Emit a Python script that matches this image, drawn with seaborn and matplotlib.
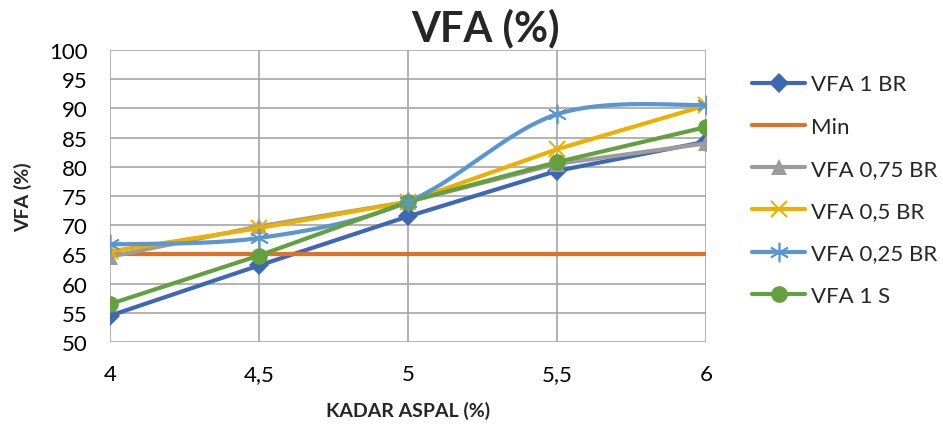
import numpy as np
import pandas as pd
import matplotlib
matplotlib.use("Agg")
import matplotlib.pyplot as plt
import seaborn as sns

# Asphalt content (%) on the x axis
kadar_aspal = [4.0, 4.5, 5.0, 5.5, 6.0]
x_ticks = ["4", "4,5", "5", "5,5", "6"]

vfa_1_br = [54.5, 63.1, 71.5, 79.3, 84.3]
vfa_min = [65.0, 65.0, 65.0, 65.0, 65.0]
vfa_075_br = [64.6, 69.8, 74.0, 80.5, 84.0]
vfa_05_br = [65.5, 69.5, 74.0, 83.0, 90.5]
vfa_025_br = [66.7, 67.8, 74.0, 89.0, 90.6]
vfa_1_s = [56.5, 64.8, 74.0, 80.8, 86.8]

series_names = ["VFA 1 BR", "Min", "VFA 0,75 BR", "VFA 0,5 BR", "VFA 0,25 BR", "VFA 1 S"]
series_values = [vfa_1_br, vfa_min, vfa_075_br, vfa_05_br, vfa_025_br, vfa_1_s]
series_colors = ["#3F68B4", "#E07128", "#9C9C9C", "#EBB000", "#5A96D0", "#65A03F"]
series_markers = ["D", None, "^", "x", (6, 2, 0), "o"]
series_msize = [10, 0, 12, 12, 14, 12]
smoothed = [False, False, False, False, True, False]

sns.set_theme(style="white")
plt.rcParams["font.family"] = ["Lato", "DejaVu Sans"]


def smooth_curve(xs, ys, n=40):
    """Catmull-Rom style smoothing through the points (like spreadsheet smoothed lines)."""
    xs = np.asarray(xs, float)
    ys = np.asarray(ys, float)
    px = np.concatenate([[xs[0]], xs, [xs[-1]]])
    py = np.concatenate([[ys[0]], ys, [ys[-1]]])
    out_x, out_y = [], []
    for i in range(1, len(px) - 2):
        p0 = np.array([px[i - 1], py[i - 1]])
        p1 = np.array([px[i], py[i]])
        p2 = np.array([px[i + 1], py[i + 1]])
        p3 = np.array([px[i + 2], py[i + 2]])
        c1 = p1 + (p2 - p0) / 6.0
        c2 = p2 - (p3 - p1) / 6.0
        t = np.linspace(0, 1, n)[:, None]
        b = ((1 - t) ** 3) * p1 + 3 * ((1 - t) ** 2) * t * c1 + 3 * (1 - t) * t ** 2 * c2 + t ** 3 * p2
        out_x.extend(b[:, 0])
        out_y.extend(b[:, 1])
    return np.array(out_x), np.array(out_y)


fig = plt.figure(figsize=(9.43, 4.31), dpi=100)
ax = fig.add_axes([0.1166, 0.2042, 0.632, 0.6775])

handles = []
for name, vals, col, mk, ms, sm in zip(series_names, series_values, series_colors,
                                          series_markers, series_msize, smoothed):
    df = pd.DataFrame({"x": kadar_aspal, "y": vals})
    mew = 1.5 if mk == "x" else (1.2 if sm else 0)
    if sm:
        sx, sy = smooth_curve(kadar_aspal, vals)
        sns.lineplot(x=sx, y=sy, ax=ax, color=col, linewidth=3, sort=False, zorder=3)
        ax.plot(df["x"], df["y"], linestyle="none", marker=mk, markersize=ms,
                color=col, markeredgewidth=mew, zorder=4)
    else:
        sns.lineplot(data=df, x="x", y="y", ax=ax, color=col, linewidth=3,
                     marker=mk if mk else None, markersize=ms,
                     markeredgecolor=col, markeredgewidth=mew, zorder=3)
    h, = ax.plot([], [], color=col, linewidth=3, marker=mk if mk else None,
                 markersize=ms, markeredgewidth=mew, markeredgecolor=col)
    handles.append(h)

ax.set_xlim(4, 6)
ax.set_ylim(50, 100)
ax.set_xticks(kadar_aspal)
ax.set_xticklabels(x_ticks)
ax.set_yticks(np.arange(50, 101, 5))
ax.tick_params(axis="both", labelsize=16, length=6, width=1.2, color="#A6A6A6",
               labelcolor="#000000", direction="out")
ax.tick_params(axis="x", pad=10)
ax.tick_params(axis="y", pad=10)
ax.grid(True, color="#A6A6A6", linewidth=1.2)
ax.set_axisbelow(True)
for s in ax.spines.values():
    s.set_visible(False)

ax.set_xlabel("KADAR ASPAL (%)", fontsize=14, fontweight="bold", labelpad=12)
ax.set_ylabel("VFA (%)", fontsize=14, fontweight="bold", labelpad=12)
fig.text(0.515, 0.935, "VFA (%)", fontsize=30, fontweight="bold", ha="center", va="center")

fig.legend(handles, series_names, loc="upper left", bbox_to_anchor=(0.7975, 0.825),
           frameon=False, fontsize=16, handlelength=2.4, labelspacing=1.0,
           handletextpad=0.25, borderpad=0, borderaxespad=0)

fig.savefig("out.png", dpi=100)
